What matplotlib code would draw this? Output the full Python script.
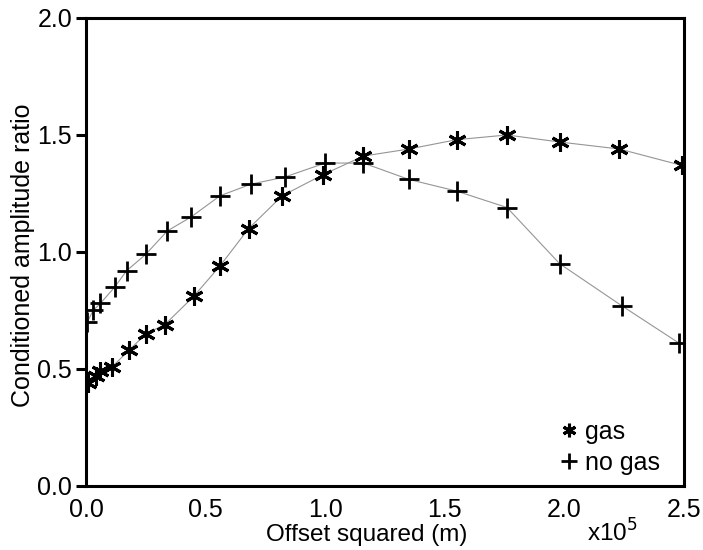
import numpy as np
import matplotlib.pyplot as plt

plt.rcParams['font.family'] = ['Liberation Sans', 'DejaVu Sans']

# offset squared in units of 1e5 m^2
x_gas = [0.01, 0.04, 0.06, 0.11, 0.18, 0.25, 0.33, 0.45, 0.56, 0.68,
         0.82, 0.99, 1.16, 1.35, 1.55, 1.76, 1.98, 2.23, 2.49]
y_gas = [0.44, 0.47, 0.49, 0.51, 0.58, 0.65, 0.69, 0.81, 0.94, 1.10,
         1.24, 1.33, 1.41, 1.44, 1.48, 1.50, 1.47, 1.44, 1.37]

x_nogas = [0.005, 0.03, 0.06, 0.12, 0.17, 0.25, 0.34, 0.44, 0.56, 0.69,
           0.83, 1.00, 1.16, 1.35, 1.55, 1.76, 1.98, 2.24, 2.48]
y_nogas = [0.70, 0.75, 0.78, 0.85, 0.92, 0.99, 1.09, 1.15, 1.24, 1.29,
           1.32, 1.38, 1.38, 1.31, 1.26, 1.19, 0.95, 0.77, 0.61]

xticks = [0.0, 0.5, 1.0, 1.5, 2.0, 2.5]
yticks = [0.0, 0.5, 1.0, 1.5, 2.0]

fig = plt.figure(figsize=(7.03, 5.5), dpi=100)
ax = fig.add_axes([0.1223, 0.1164, 0.8507, 0.8509])

asterisk = (6, 2, 0)
ax.plot(x_gas, y_gas, color='#959595', lw=0.8, zorder=1)
ax.plot(x_nogas, y_nogas, color='#959595', lw=0.8, zorder=1)
ax.plot(x_gas, y_gas, ls='none', marker=asterisk, ms=13, mew=2.2,
        color='black', label='gas', zorder=3)
ax.plot(x_nogas, y_nogas, ls='none', marker='+', ms=15, mew=2.0,
        color='black', label='no gas', zorder=3)

ax.set_xlim(0, 2.5)
ax.set_ylim(0, 2.0)
ax.set_xticks(xticks)
ax.set_yticks(yticks)
ax.set_xticklabels([f'{t:.1f}' for t in xticks])
ax.set_yticklabels([f'{t:.1f}' for t in yticks])

for s in ax.spines.values():
    s.set_linewidth(2.2)
ax.tick_params(axis='y', direction='out', length=7, width=2.2, pad=3,
               labelsize=18)
ax.tick_params(axis='x', length=0, pad=9, labelsize=18)

fig.text(0.033, 0.536, 'Conditioned amplitude ratio', rotation=90,
         ha='center', va='center', fontsize=18)
fig.text(0.522, 0.016, 'Offset squared (m)', ha='center', va='baseline',
         fontsize=17.5)
fig.text(0.835, 0.016, r'x10$^5$', ha='left', va='baseline', fontsize=17.5)

# legend placed in figure pixels: top-left corner of the handle column
leg = ax.legend(loc='upper left', bbox_to_anchor=(561 / 703, 1 - 420 / 550),
                bbox_transform=fig.transFigure, frameon=False, fontsize=18,
                handlelength=0.6, handletextpad=0.35, labelspacing=0.28,
                borderpad=0, borderaxespad=0, markerscale=0.75)

fig.savefig('out.png', dpi=100)
